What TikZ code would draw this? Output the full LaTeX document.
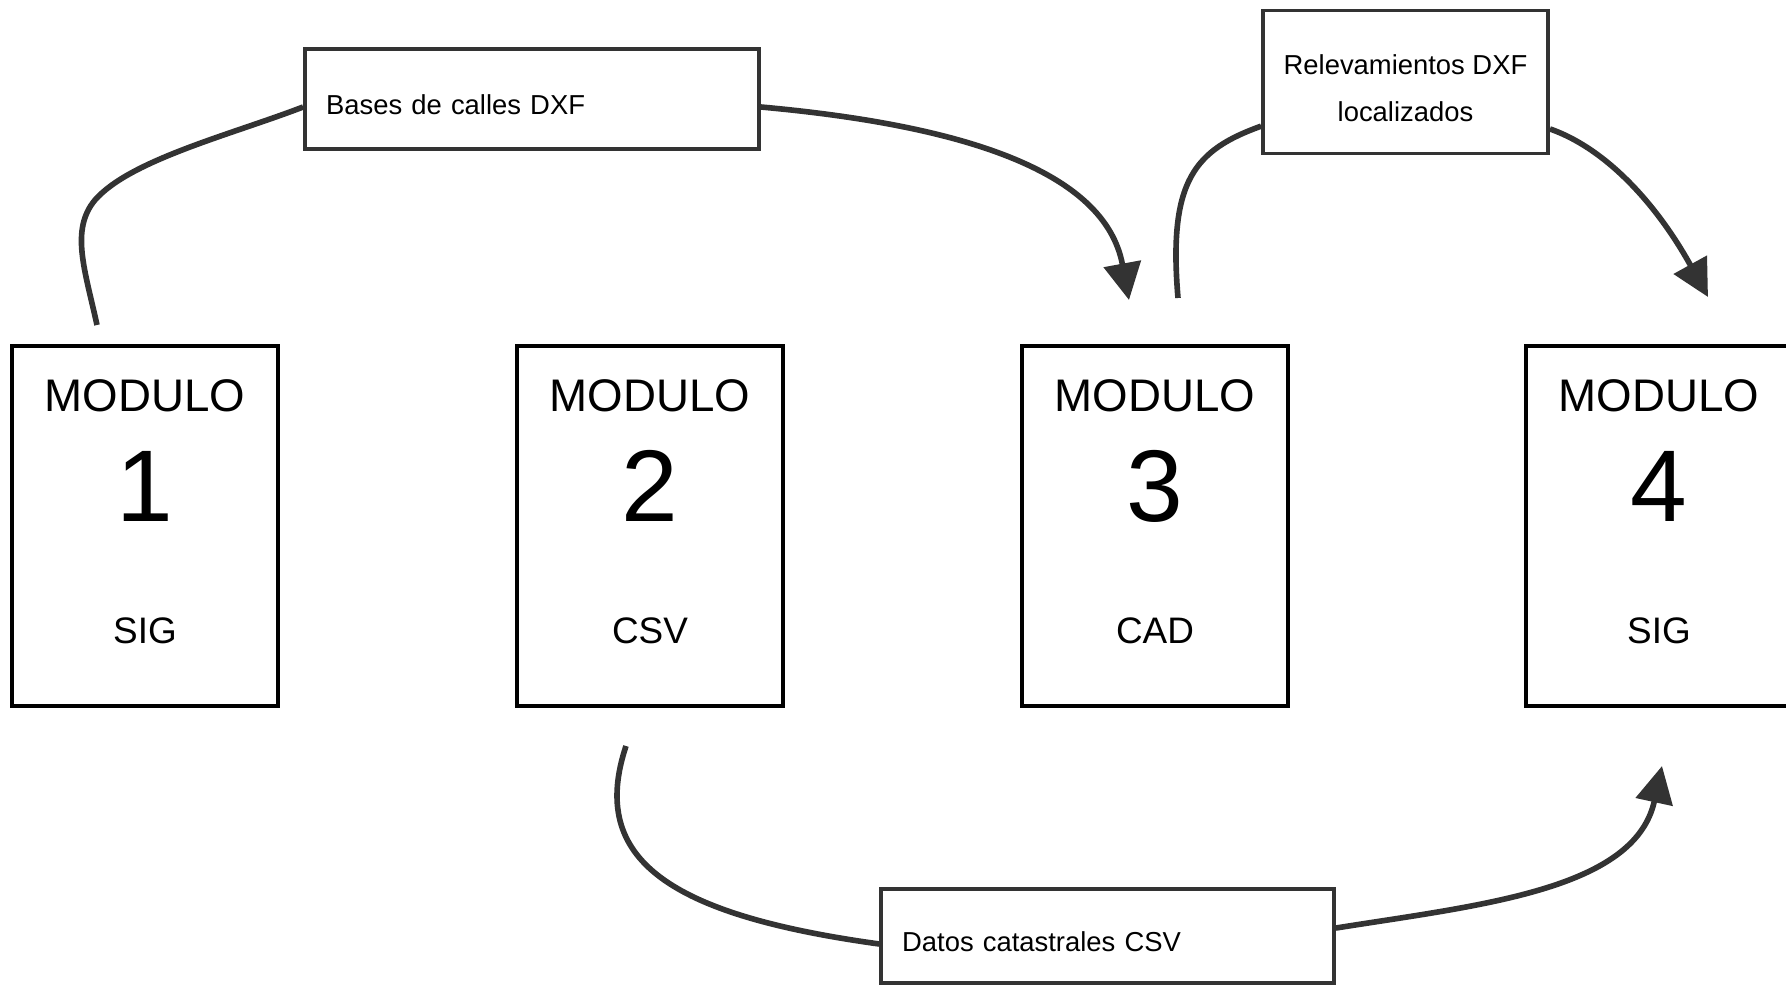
\documentclass[tikz,border=0pt]{standalone}
\usepackage{fontspec}
\setmainfont{Liberation Sans}
\usetikzlibrary{arrows.meta}
\definecolor{flowgray}{HTML}{333333}

\tikzset{
  modbox/.style={draw=black, line width=2.3pt, minimum width=5.32cm, minimum height=7.2cm, inner sep=0pt},
  modtitle/.style={anchor=base, font=\fontsize{26}{30}\selectfont},
  modnum/.style={anchor=base, font=\fontsize{58}{64}\selectfont},
  modtype/.style={anchor=base, font=\fontsize{21}{25}\selectfont},
  databox/.style={draw=flowgray, line width=2.2pt, font=\fontsize{15.6}{26.6}\selectfont, inner sep=0pt},
  flowline/.style={draw=flowgray, line width=3.2pt},
  flow/.style={flowline, -{Triangle[length=21pt,width=21pt]}},
}

\begin{document}
\begin{tikzpicture}[x=0.02cm,y=-0.02cm]
	\useasboundingbox (0,0) rectangle (1786,988);

	% modulos
	\foreach \x/\n/\t in {145/1/SIG, 650/2/CSV, 1155/3/CAD, 1659/4/SIG}{
	  \node[modbox] (m\n) at (\x,526) {};
	  \node[modtitle] (m\n-title) at (\x,411) {MODULO};
	  \node[modnum] (m\n-num) at (\x,521) {\n};
	  \node[modtype] (m\n-type) at (\x,643) {\t};
	}

	% datos que pasan
	\node[databox, minimum width=9.08cm, minimum height=2cm, text width=9.08cm-24pt,
	      align=left, text height=18pt, text depth=0pt] (bases) at (532,99) {Bases de calles DXF};
	\node[databox, minimum width=5.7cm, minimum height=2.86cm, align=center] (relev) at (1405.5,82)
	      {\rule{0pt}{18pt}Relevamientos DXF\\localizados};
	\node[databox, minimum width=9.06cm, minimum height=1.88cm, text width=9.06cm-24pt,
	      align=left, text height=18pt, text depth=0pt] (datos) at (1107.5,936) {Datos catastrales CSV};

	\coordinate (s1) at (97,325);
	\coordinate (e3) at (1129,300);
	\coordinate (s3) at (1178,298);
	\coordinate (e4) at (1708,297);
	\coordinate (s2) at (626,746);
	\coordinate (e4b) at (1662,766);

	\draw[flowline] (s1) .. controls (85,270) and (70,230) .. (95,200)
	                .. controls (130,160) and (230,135) .. (bases.-178);
	\draw[flow] (bases.-2) .. controls (960,125) and (1105,170) .. (e3);

	\draw[flowline] (s3) .. controls (1168,180) and (1195,150) .. (relev.-163);
	\draw[flow] (relev.-18) .. controls (1610,150) and (1660,210) .. (e4);

	\draw[flowline] (s2) .. controls (588,860) and (670,915) .. (datos.-178);
	\draw[flow] (datos.2) .. controls (1480,905) and (1635,890) .. (e4b);
\end{tikzpicture}
\end{document}
